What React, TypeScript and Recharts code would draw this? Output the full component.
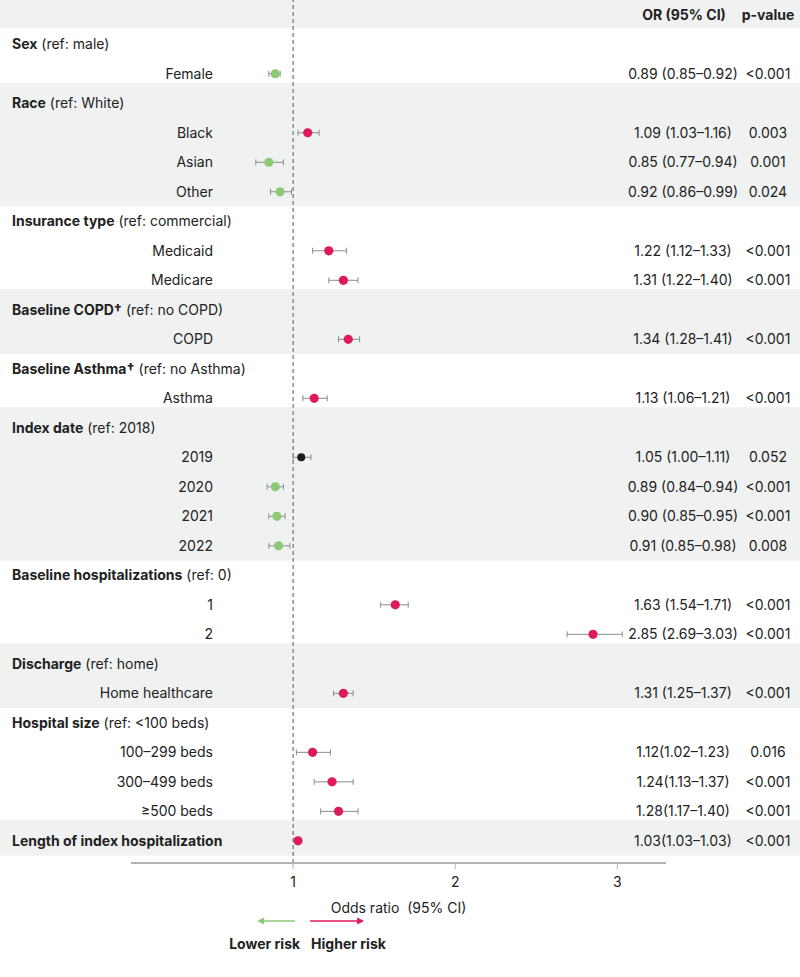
import * as React from 'react';
import { ErrorBar, ReferenceArea, ReferenceLine, Scatter, ScatterChart, XAxis, YAxis } from 'recharts';

// Groups (section headers) and how many rows each one holds
const groupNames = [
    'Sex',
    'Race',
    'Insurance type',
    'Baseline COPD†',
    'Baseline Asthma†',
    'Index date',
    'Baseline hospitalizations',
    'Discharge',
    'Hospital size',
    'Length of index hospitalization',
];
const groupRefs = [
    ' (ref: male)',
    ' (ref: White)',
    ' (ref: commercial)',
    ' (ref: no COPD)',
    ' (ref: no Asthma)',
    ' (ref: 2018)',
    ' (ref: 0)',
    ' (ref: home)',
    ' (ref: <100 beds)',
    '',
];
const groupSizes = [1, 3, 2, 1, 1, 4, 2, 1, 3, 1];
// groups drawn on a single row (label is the group name itself)
const inlineGroups = ['Length of index hospitalization'];

// One entry per estimate
const itemLabels = [
    'Female',
    'Black', 'Asian', 'Other',
    'Medicaid', 'Medicare',
    'COPD',
    'Asthma',
    '2019', '2020', '2021', '2022',
    '1', '2',
    'Home healthcare',
    '100–299 beds', '300–499 beds', '≥500 beds',
    '',
];
const oddsRatios = [0.89, 1.09, 0.85, 0.92, 1.22, 1.31, 1.34, 1.13, 1.05, 0.89, 0.9, 0.91, 1.63, 2.85, 1.31, 1.12, 1.24, 1.28, 1.03];
const ciLow = [0.85, 1.03, 0.77, 0.86, 1.12, 1.22, 1.28, 1.06, 1.0, 0.84, 0.85, 0.85, 1.54, 2.69, 1.25, 1.02, 1.13, 1.17, 1.03];
const ciHigh = [0.92, 1.16, 0.94, 0.99, 1.33, 1.4, 1.41, 1.21, 1.11, 0.94, 0.95, 0.98, 1.71, 3.03, 1.37, 1.23, 1.37, 1.4, 1.03];
const ciLabels = [
    '0.89 (0.85–0.92)',
    '1.09 (1.03–1.16)', '0.85 (0.77–0.94)', '0.92 (0.86–0.99)',
    '1.22 (1.12–1.33)', '1.31 (1.22–1.40)',
    '1.34 (1.28–1.41)',
    '1.13 (1.06–1.21)',
    '1.05 (1.00–1.11)', '0.89 (0.84–0.94)', '0.90 (0.85–0.95)', '0.91 (0.85–0.98)',
    '1.63 (1.54–1.71)', '2.85 (2.69–3.03)',
    '1.31 (1.25–1.37)',
    '1.12(1.02–1.23)', '1.24(1.13–1.37)', '1.28(1.17–1.40)',
    '1.03(1.03–1.03)',
];
const pValues = [
    '<0.001',
    '0.003', '0.001', '0.024',
    '<0.001', '<0.001',
    '<0.001',
    '<0.001',
    '0.052', '<0.001', '<0.001', '0.008',
    '<0.001', '<0.001',
    '<0.001',
    '0.016', '<0.001', '<0.001',
    '<0.001',
];
const xTicks = [1, 2, 3];

const WIDTH = 800;
const HEIGHT = 977;
const X_MIN = 0;
const X_MAX = 3.3;
const RED = '#DF1A5B';
const GREEN = '#8CCA78';
const BLACK = '#1c1c1c';
const BAND = '#F0F1F1';
const TEXT = '#222';

type Row =
    | { kind: 'header'; row: number; group: number }
    | { kind: 'item'; row: number; group: number; idx: number; inline: boolean };

// Lay out the rows top to bottom
const rows: Row[] = [];
const bands: { y1: number; y2: number }[] = [];
{
    let r = 0;
    let item = 0;
    groupNames.forEach((name, g) => {
        const inline = inlineGroups.includes(name);
        const start = r;
        if (!inline) {
            rows.push({ kind: 'header', row: r, group: g });
            r++;
        }
        for (let k = 0; k < groupSizes[g]; k++) {
            rows.push({ kind: 'item', row: r, group: g, idx: item, inline });
            r++;
            item++;
        }
        if (g % 2 === 1) bands.push({ y1: start - 0.7, y2: r - 1 + 0.5 });
    });
}
const rowTicks = [-1, ...rows.map((r) => r.row)];
const lastRow = rows[rows.length - 1].row;

const points = rows
    .filter((r): r is Extract<Row, { kind: 'item' }> => r.kind === 'item')
    .map((r) => {
        const or = oddsRatios[r.idx];
        const lo = ciLow[r.idx];
        const hi = ciHigh[r.idx];
        const color = lo > 1 ? RED : hi < 1 ? GREEN : BLACK;
        return { x: or, y: r.row, err: [or - lo, hi - or], color };
    });

function BandShape(props: any) {
    return <rect x={0} y={props.y} width={WIDTH} height={props.height} fill={BAND} />;
}

function DotShape(props: any) {
    const { cx, cy, payload } = props;
    const r = payload.color === BLACK ? 4 : 4.6;
    return <circle cx={cx} cy={cy} r={r} fill={payload.color} />;
}

function RowTick(props: any) {
    const { y, payload } = props;
    const value = payload?.value;
    if (value === -1) {
        return (
            <g fontSize={14} fontWeight={700} fill={TEXT}>
                <text x={684} y={y} dy="0.35em" textAnchor="middle">OR (95% CI)</text>
                <text x={768} y={y} dy="0.35em" textAnchor="middle">p-value</text>
            </g>
        );
    }
    const row = rows.find((r) => r.row === value);
    if (!row) return <g />;
    if (row.kind === 'header') {
        return (
            <text x={12} y={y} dy="0.35em" fontSize={14} fill={TEXT}>
                <tspan fontWeight={700}>{groupNames[row.group]}</tspan>
                <tspan>{groupRefs[row.group]}</tspan>
            </text>
        );
    }
    return (
        <g fontSize={14} fill={TEXT}>
            {row.inline ? (
                <text x={12} y={y} dy="0.35em" fontWeight={700}>{groupNames[row.group]}</text>
            ) : (
                <text x={213} y={y} dy="0.35em" textAnchor="end">{itemLabels[row.idx]}</text>
            )}
            <text x={683} y={y} dy="0.35em" textAnchor="middle">{ciLabels[row.idx]}</text>
            <text x={768} y={y} dy="0.35em" textAnchor="middle">{pValues[row.idx]}</text>
        </g>
    );
}

// Axis title plus the lower / higher risk arrows under the reference line
function AxisFooter(props: any) {
    const { x = 0, y = 0, width = 0 } = props.viewBox || {};
    const px1 = x + ((1 - X_MIN) / (X_MAX - X_MIN)) * width;
    const ay = y + 58;
    return (
        <g fontSize={14} fill={TEXT}>
            <text x={x + width / 2} y={y + 45} dy="0.35em" textAnchor="middle" style={{ whiteSpace: 'pre' }}>
                Odds ratio  (95% CI)
            </text>
            <line x1={px1 + 2} x2={px1 - 30} y1={ay} y2={ay} stroke={GREEN} strokeWidth={1.5} />
            <path d={`M${px1 - 36},${ay} L${px1 - 29},${ay - 3.5} L${px1 - 29},${ay + 3.5} Z`} fill={GREEN} />
            <line x1={px1 + 17} x2={px1 + 65} y1={ay} y2={ay} stroke={RED} strokeWidth={1.5} />
            <path d={`M${px1 + 71},${ay} L${px1 + 64},${ay - 3.5} L${px1 + 64},${ay + 3.5} Z`} fill={RED} />
            <text x={px1 + 7} y={y + 81} dy="0.35em" textAnchor="end" fontWeight={700}>Lower risk</text>
            <text x={px1 + 18} y={y + 81} dy="0.35em" textAnchor="start" fontWeight={700}>Higher risk</text>
        </g>
    );
}

export default function App() {
    return (
        <div
            style={{
                position: 'absolute',
                left: 0,
                top: 0,
                width: WIDTH,
                height: HEIGHT,
                background: '#fff',
                fontFamily: 'Inter, "Noto Sans", sans-serif',
            }}
        >
            <ScatterChart width={WIDTH} height={HEIGHT} margin={{ top: 0, right: 134, bottom: 0, left: 0 }}>
                {/* header band + alternating section bands */}
                <ReferenceArea y1={-1.5} y2={-0.55} shape={BandShape} />
                {bands.map((b, i) => (
                    <ReferenceArea key={`band-${i}`} y1={b.y1} y2={b.y2} shape={BandShape} />
                ))}

                <XAxis
                    type="number"
                    dataKey="x"
                    domain={[X_MIN, X_MAX]}
                    ticks={xTicks}
                    allowDataOverflow
                    height={114}
                    axisLine={{ stroke: '#b3b3b3', strokeWidth: 2 }}
                    tickLine={{ stroke: '#b3b3b3' }}
                    tickSize={6}
                    tickMargin={8}
                    tick={{ fill: TEXT, fontSize: 14 }}
                    label={<AxisFooter />}
                />
                <YAxis
                    type="number"
                    dataKey="y"
                    domain={[-1.5, lastRow + 0.75]}
                    allowDataOverflow
                    reversed
                    ticks={rowTicks}
                    interval={0}
                    width={131}
                    axisLine={false}
                    tickLine={false}
                    tick={(p: any) => <RowTick {...p} />}
                />

                <ReferenceLine x={1} stroke="#555" strokeDasharray="4 3" />

                <Scatter data={points} isAnimationActive={false} shape={DotShape}>
                    <ErrorBar dataKey="err" direction="x" width={3} stroke="#8c8c8c" strokeWidth={1} />
                </Scatter>
            </ScatterChart>
        </div>
    );
}
